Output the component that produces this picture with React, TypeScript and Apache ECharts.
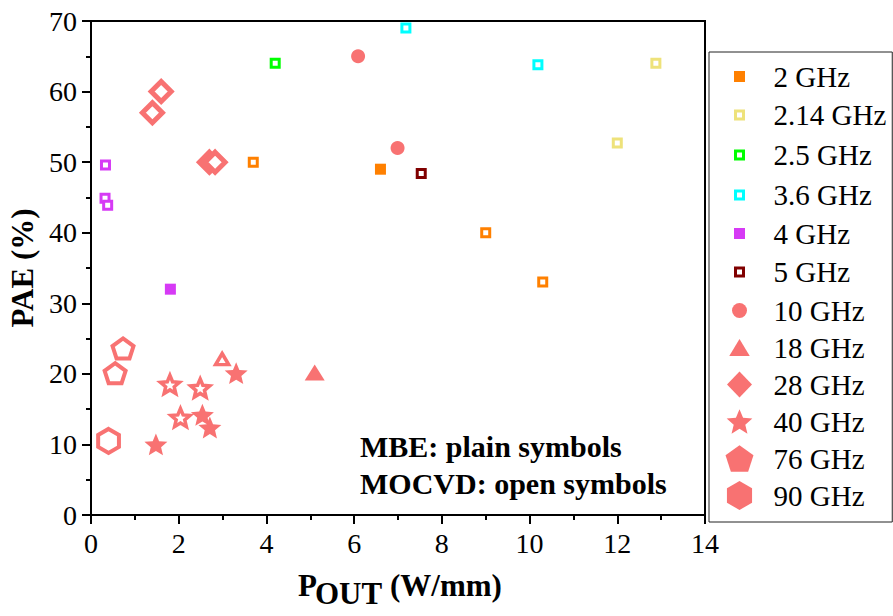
import React, { useEffect, useRef } from "react";
import * as echarts from "echarts";

const FONT = "Liberation Serif";

// ---------- data (P_OUT W/mm, PAE %) ----------
const ghz2MBE = [[6.6, 49]];
const ghz2MOCVD = [[3.7, 50], [9.0, 40], [10.3, 33]];
const ghz214 = [[12.0, 52.7], [12.88, 64]];
const ghz25 = [[4.2, 64]];
const ghz36 = [[7.18, 69], [10.19, 63.8]];
const ghz4MBE = [[1.81, 32]];
const ghz4MOCVD = [[0.33, 49.6], [0.32, 44.9], [0.38, 43.9]];
const ghz5 = [[7.53, 48.4]];
const ghz10 = [[6.09, 65], [6.99, 52]];
const ghz18MBE = [[5.1, 20.2]];
const ghz18MOCVD = [[2.99, 22.1]];
const ghz28 = [[1.4, 57], [1.6, 60], [2.7, 50], [2.83, 50]];
const ghz40MBE = [[1.48, 10], [2.54, 14.2], [2.71, 12.4], [3.31, 20.1]];
const ghz40MOCVD = [[1.8, 18.5], [2.49, 18], [2.04, 13.8]];
const ghz76 = [[0.55, 20.1], [0.73, 23.6]];
const ghz90 = [[0.4, 10.5]];

const legendNames = [
  "2 GHz", "2.14 GHz", "2.5 GHz", "3.6 GHz", "4 GHz", "5 GHz",
  "10 GHz", "18 GHz", "28 GHz", "40 GHz", "76 GHz", "90 GHz",
];
const xRange = { min: 0, max: 14, interval: 2 };
const yRange = { min: 0, max: 70, interval: 10 };

// ---------- styles ----------
const ORANGE = "#FF8000";
const YELLOW = "#EEE27A";
const GREEN = "#00FF00";
const CYAN = "#00FFFF";
const PURPLE = "#D63AF5";
const DARKRED = "#800000";
const CORAL = "#F87272";

type Pt = [number, number];
function polyPts(R: number, n: number, inner?: number): Pt[] {
  const k = inner ? 2 * n : n;
  const pts: Pt[] = [];
  for (let i = 0; i < k; i++) {
    const a = -Math.PI / 2 + (i * Math.PI * 2) / k;
    const r = inner && i % 2 === 1 ? R * inner : R;
    pts.push([r * Math.cos(a), r * Math.sin(a)]);
  }
  return pts;
}
function centered(pts: Pt[], cx: number, cy: number): Pt[] {
  const xs = pts.map((p) => p[0]);
  const ys = pts.map((p) => p[1]);
  const mx = (Math.min(...xs) + Math.max(...xs)) / 2;
  const my = (Math.min(...ys) + Math.max(...ys)) / 2;
  return pts.map((p) => [p[0] - mx + cx, p[1] - my + cy] as Pt);
}
function toD(pts: Pt[]): string {
  return pts.map((p, i) => (i ? "L" : "M") + p[0].toFixed(2) + " " + p[1].toFixed(2)).join(" ") + " Z";
}
const STAR_IN = 0.45;
const starSym = "path://" + toD(polyPts(100, 5, STAR_IN));
const pentSym = "path://" + toD(polyPts(100, 5));
const hexSym = "path://" + toD(polyPts(100, 6));

// legend icons drawn in a 43x29 box, shape centred at (14,14.5)
const BOX = "M0 0 M43 29 ";
const CY = 14.5;
const icoRect = (s: number) => "path://" + BOX + toD(centered([[0, 0], [s, 0], [s, s], [0, s]], 14, CY));
const icoCircle = (r: number) =>
  "path://" + BOX + `M${14 - r} ${CY} A${r} ${r} 0 1 1 ${14 + r} ${CY} A${r} ${r} 0 1 1 ${14 - r} ${CY} Z`;
const icoTri = "path://" + BOX + toD(centered([[0, 17], [10.25, 0], [20.5, 17]], 14, CY));
const icoDiamond = "path://" + BOX + toD(centered([[0, 13], [12.5, 0], [25, 13], [12.5, 26]], 14, CY));
const icoStar = "path://" + BOX + toD(centered(polyPts(13.5, 5, STAR_IN), 14, CY));
const icoPent = "path://" + BOX + toD(centered(polyPts(14.7, 5), 14, CY));
const icoHex = "path://" + BOX + toD(centered(polyPts(14.5, 6), 14, CY));

const filled = (c: string) => ({ color: c, borderColor: c, borderWidth: 0, opacity: 1 });
const open = (c: string, w: number) => ({ color: "#fff", borderColor: c, borderWidth: w, opacity: 1 });

const legendData = [
  { name: legendNames[0], icon: icoRect(11), itemStyle: filled(ORANGE) },
  { name: legendNames[1], icon: icoRect(8), itemStyle: open(YELLOW, 3) },
  { name: legendNames[2], icon: icoRect(8), itemStyle: open(GREEN, 3) },
  { name: legendNames[3], icon: icoRect(8), itemStyle: open(CYAN, 3) },
  { name: legendNames[4], icon: icoRect(11), itemStyle: filled(PURPLE) },
  { name: legendNames[5], icon: icoRect(8), itemStyle: open(DARKRED, 3) },
  { name: legendNames[6], icon: icoCircle(7.5), itemStyle: filled(CORAL) },
  { name: legendNames[7], icon: icoTri, itemStyle: filled(CORAL) },
  { name: legendNames[8], icon: icoDiamond, itemStyle: filled(CORAL) },
  { name: legendNames[9], icon: icoStar, itemStyle: filled(CORAL) },
  { name: legendNames[10], icon: icoPent, itemStyle: filled(CORAL) },
  { name: legendNames[11], icon: icoHex, itemStyle: filled(CORAL) },
];

function sc(name: string, data: number[][], symbol: string, size: any, itemStyle: any) {
  return {
    type: "scatter",
    name,
    data,
    symbol,
    symbolSize: size,
    symbolKeepAspect: true,
    itemStyle,
    emphasis: { disabled: true },
    silent: true,
  };
}

export default function App() {
  const ref = useRef<HTMLDivElement>(null);
  useEffect(() => {
    if (!ref.current) return;
    const chart = echarts.init(ref.current, null, { renderer: "svg" });
    const axisCommon = {
      axisLine: { show: true, onZero: false, lineStyle: { color: "#000", width: 2 } },
      axisTick: { show: true, inside: false, length: 9, lineStyle: { color: "#000", width: 2 } },
      minorTick: { show: true, splitNumber: 2, length: 5, lineStyle: { color: "#000", width: 2 } },
      splitLine: { show: false },
      axisLabel: { fontFamily: FONT, fontSize: 28, color: "#000", margin: 14 },
    };
    const txt = (text: string, x: number, y: number, size: number) => ({
      type: "text", x, y,
      style: { text, fontFamily: FONT, fontSize: size, fontWeight: "bold", fill: "#000", textAlign: "left", textVerticalAlign: "middle" },
    });
    chart.setOption({
      animation: false,
      backgroundColor: "#fff",
      grid: {
        left: 91, top: 21, width: 614, height: 494,
        outerBoundsMode: "none", containLabel: false,
        show: true, borderColor: "#000", borderWidth: 2, backgroundColor: "transparent",
      },
      xAxis: { type: "value", ...xRange, ...axisCommon },
      yAxis: {
        type: "value", ...yRange, ...axisCommon,
        name: "PAE (%)", nameLocation: "middle", nameGap: 53,
        nameTextStyle: { fontFamily: FONT, fontSize: 31, fontWeight: "bold", color: "#000" },
      },
      legend: {
        orient: "vertical", left: 709, top: 52,
        padding: [10, 6, 12, 15], itemGap: 8, itemWidth: 43, itemHeight: 29,
        borderColor: "#222", borderWidth: 1, selectedMode: false,
        textStyle: { fontFamily: FONT, fontSize: 29, color: "#000" },
        data: legendData,
      },
      graphic: [
        txt("MBE: plain symbols", 360, 446, 30),
        txt("MOCVD: open symbols", 360, 483, 30),
        txt("P", 298, 585.5, 31),
        txt("OUT", 315, 593.5, 31),
        txt("(W/mm)", 390, 585.5, 31),
      ],
      series: [
        sc("2 GHz", ghz2MBE, "rect", 11, filled(ORANGE)),
        sc("2 GHz MOCVD", ghz2MOCVD, "rect", 8, open(ORANGE, 3)),
        sc("2.14 GHz", ghz214, "rect", 8, open(YELLOW, 3)),
        sc("2.5 GHz", ghz25, "rect", 8, open(GREEN, 3)),
        sc("3.6 GHz", ghz36, "rect", 8, open(CYAN, 3)),
        sc("4 GHz", ghz4MBE, "rect", 11, filled(PURPLE)),
        sc("4 GHz MOCVD", ghz4MOCVD, "rect", 8, open(PURPLE, 3)),
        sc("5 GHz", ghz5, "rect", 8, open(DARKRED, 3)),
        sc("10 GHz", ghz10, "circle", 14, filled(CORAL)),
        sc("18 GHz", ghz18MBE, "triangle", [20, 16], filled(CORAL)),
        sc("18 GHz MOCVD", ghz18MOCVD, "triangle", [13, 11], open(CORAL, 3.5)),
        sc("28 GHz", ghz28, "diamond", 20, open(CORAL, 5)),
        sc("40 GHz", ghz40MBE, starSym, 23, filled(CORAL)),
        sc("40 GHz MOCVD", ghz40MOCVD, starSym, 19, open(CORAL, 3.5)),
        sc("76 GHz", ghz76, pentSym, 21, open(CORAL, 4)),
        sc("90 GHz", ghz90, hexSym, 24, open(CORAL, 4)),
      ],
    });
    return () => chart.dispose();
  }, []);
  return <div ref={ref} style={{ width: 893, height: 616, position: "absolute", left: 0, top: 0 }} />;
}
